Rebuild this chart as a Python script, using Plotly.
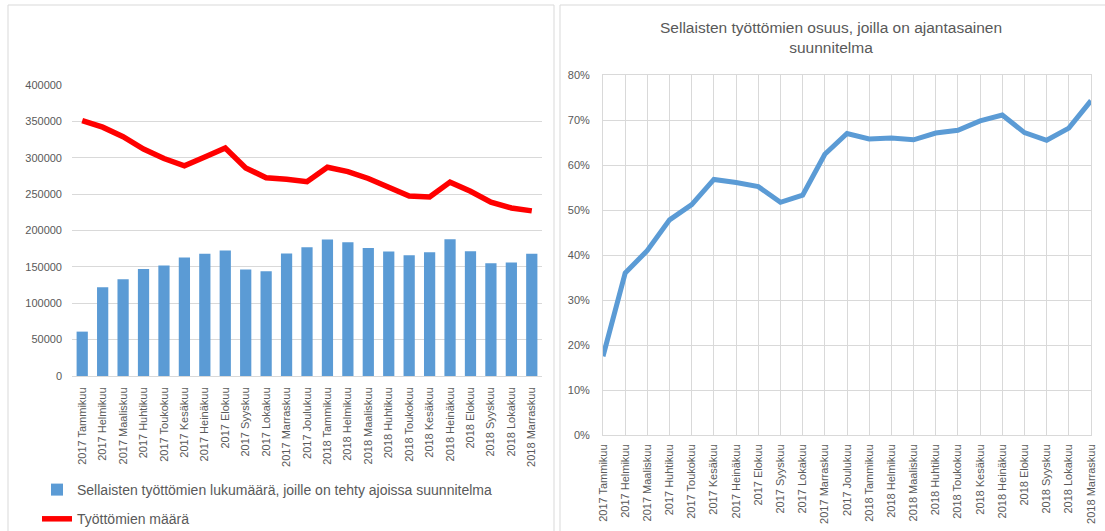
import plotly.graph_objects as go

# Month labels (shared by both charts)
months = [
    "2017 Tammikuu", "2017 Helmikuu", "2017 Maaliskuu", "2017 Huhtikuu",
    "2017 Toukokuu", "2017 Kesäkuu", "2017 Heinäkuu", "2017 Elokuu",
    "2017 Syyskuu", "2017 Lokakuu", "2017 Marraskuu", "2017 Joulukuu",
    "2018 Tammikuu", "2018 Helmikuu", "2018 Maaliskuu", "2018 Huhtikuu",
    "2018 Toukokuu", "2018 Kesäkuu", "2018 Heinäkuu", "2018 Elokuu",
    "2018 Syyskuu", "2018 Lokakuu", "2018 Marraskuu",
]

# Unemployed persons with a plan made in time
with_plan = [
    61000, 122000, 133000, 147000, 152000, 163000, 168000, 172500,
    146500, 144000, 168500, 177000, 187500, 184000, 176000, 171000,
    166000, 170000, 188000, 171500, 155000, 156000, 168000,
]

# Total number of unemployed persons
unemployed = [
    351000, 342000, 329000, 312000, 299000, 289000, 301000, 313500,
    286000, 272500, 270500, 267000, 287000, 281000, 271500, 259500,
    247500, 246000, 266500, 254000, 239000, 231000, 227000,
]

# Share of unemployed persons with an up-to-date plan (%)
share_pct = [
    17.5, 36.0, 41.0, 47.8, 51.2, 56.8, 56.1, 55.2, 51.7, 53.3, 62.4,
    67.0, 65.8, 66.0, 65.6, 67.1, 67.7, 69.8, 71.1, 67.2, 65.5, 68.2, 74.3,
]

W, H = 1105, 531
FONT = "Liberation Sans"
TXT = "#595959"
GRID = "#d9d9d9"


def px_x(p):
    return p / W


def px_y(p):
    return 1 - p / H


fig = go.Figure()

fig.add_trace(go.Bar(
    x=months, y=with_plan,
    name="Sellaisten työttömien lukumäärä, joille on tehty ajoissa suunnitelma",
    marker=dict(color="#5b9bd5", line=dict(width=0)),
    xaxis="x", yaxis="y", legendgroup="a",
))
fig.add_trace(go.Scatter(
    x=months, y=unemployed, mode="lines",
    name="Työttömien määrä",
    line=dict(color="#ff0000", width=5.5),
    xaxis="x", yaxis="y", legendgroup="b",
))
fig.add_trace(go.Scatter(
    x=months, y=share_pct, mode="lines",
    name="Osuus", showlegend=False,
    line=dict(color="#5b9bd5", width=5),
    xaxis="x2", yaxis="y2",
))

tick_font = dict(family=FONT, size=11, color=TXT)

fig.update_layout(
    width=W, height=H,
    margin=dict(l=0, r=0, t=0, b=0, pad=0, autoexpand=False),
    paper_bgcolor="white", plot_bgcolor="white",
    font=dict(family=FONT, color=TXT),
    bargap=0.45,
    xaxis=dict(
        domain=[px_x(72), px_x(542)],
        anchor="y", type="category", automargin=False,
        tickangle=-90, tickfont=tick_font,
        showgrid=False, showline=True, linecolor=GRID, linewidth=1,
        ticks="", ticklabelstandoff=6,
    ),
    yaxis=dict(
        domain=[px_y(376), px_y(85)],
        anchor="x", range=[0, 400000], dtick=50000, tickformat="d",
        automargin=False,
        tickfont=tick_font, showgrid=True, gridcolor=GRID, gridwidth=1,
        zeroline=False, showline=False, ticks="", ticklabelstandoff=9,
    ),
    xaxis2=dict(
        domain=[px_x(603), px_x(1091)],
        anchor="y2", type="category", range=[0, len(months) - 1],
        automargin=False,
        tickangle=-90, tickfont=tick_font,
        showgrid=True, gridcolor=GRID, gridwidth=1,
        showline=True, mirror=True, linecolor=GRID, linewidth=1,
        ticks="", ticklabelstandoff=4,
    ),
    yaxis2=dict(
        domain=[px_y(435), px_y(75)],
        anchor="x2", range=[0, 80], dtick=10, ticksuffix="%",
        automargin=False,
        tickfont=tick_font, showgrid=True, gridcolor=GRID, gridwidth=1,
        zeroline=False, showline=True, mirror=True, linecolor=GRID,
        linewidth=1, ticks="", ticklabelstandoff=10,
    ),
    legend=dict(
        x=px_x(37), y=px_y(474), xanchor="left", yanchor="top",
        orientation="v", traceorder="grouped", tracegroupgap=8,
        font=dict(family=FONT, size=14, color=TXT),
        bgcolor="rgba(0,0,0,0)",
    ),
    annotations=[dict(
        text="Sellaisten työttömien osuus, joilla on ajantasainen<br>suunnitelma",
        x=px_x(831), y=px_y(38), xref="paper", yref="paper",
        xanchor="center", yanchor="middle", showarrow=False,
        font=dict(family=FONT, size=15.5, color=TXT),
    )],
    shapes=[
        dict(type="rect", xref="paper", yref="paper",
             x0=px_x(8), x1=px_x(554), y0=-0.05, y1=px_y(5),
             line=dict(color=GRID, width=1), layer="below"),
        dict(type="rect", xref="paper", yref="paper",
             x0=px_x(560), x1=1.05, y0=-0.05, y1=px_y(5),
             line=dict(color=GRID, width=1), layer="below"),
    ],
)

fig.write_html("out.html")
